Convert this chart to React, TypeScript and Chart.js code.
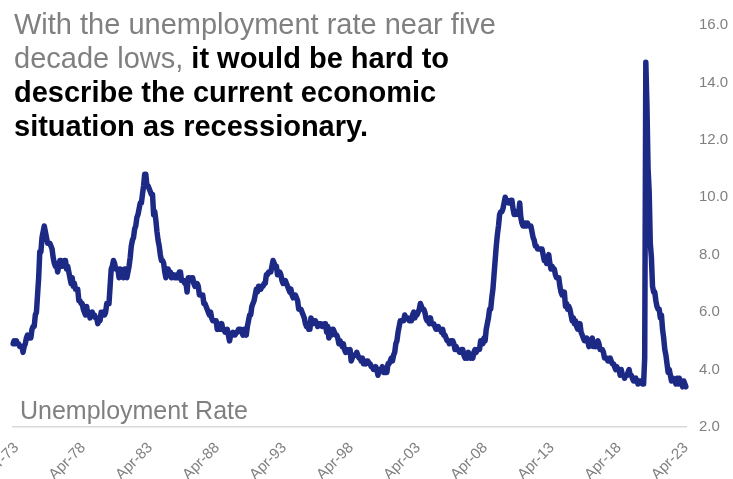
import React, { useEffect, useRef } from "react";
import { Chart, registerables } from "chart.js";

Chart.register(...registerables);

// Monthly US unemployment rate (%), Jan-1973 .. Apr-2023
const startYear = 1973;
const unemploymentRate: number[] = [
  // 1973
  4.9, 5.0, 4.9, 5.0, 4.9, 4.9, 4.8, 4.8, 4.8, 4.6, 4.8, 4.9,
  // 1974
  5.1, 5.2, 5.1, 5.1, 5.1, 5.4, 5.5, 5.5, 5.9, 6.0, 6.6, 7.2,
  // 1975
  8.1, 8.1, 8.6, 8.8, 9.0, 8.8, 8.6, 8.4, 8.4, 8.4, 8.3, 8.2,
  // 1976
  7.9, 7.7, 7.6, 7.7, 7.4, 7.6, 7.8, 7.8, 7.6, 7.7, 7.8, 7.8,
  // 1977
  7.5, 7.6, 7.4, 7.2, 7.0, 7.2, 6.9, 7.0, 6.8, 6.8, 6.8, 6.4,
  // 1978
  6.4, 6.3, 6.3, 6.1, 6.0, 5.9, 6.2, 5.9, 6.0, 5.8, 5.9, 6.0,
  // 1979
  5.9, 5.9, 5.8, 5.8, 5.6, 5.7, 5.7, 6.0, 5.9, 6.0, 5.9, 6.0,
  // 1980
  6.3, 6.3, 6.3, 6.9, 7.5, 7.6, 7.8, 7.7, 7.5, 7.5, 7.5, 7.2,
  // 1981
  7.5, 7.4, 7.4, 7.2, 7.5, 7.5, 7.2, 7.4, 7.6, 7.9, 8.3, 8.5,
  // 1982
  8.6, 8.9, 9.0, 9.3, 9.4, 9.6, 9.8, 9.8, 10.1, 10.4, 10.8, 10.8,
  // 1983
  10.4, 10.4, 10.3, 10.2, 10.1, 10.1, 9.4, 9.5, 9.2, 8.8, 8.5, 8.3,
  // 1984
  8.0, 7.8, 7.8, 7.7, 7.4, 7.2, 7.5, 7.5, 7.3, 7.4, 7.2, 7.3,
  // 1985
  7.3, 7.2, 7.2, 7.3, 7.2, 7.4, 7.4, 7.1, 7.1, 7.1, 7.0, 7.0,
  // 1986
  6.7, 7.2, 7.2, 7.1, 7.2, 7.2, 7.0, 6.9, 7.0, 7.0, 6.9, 6.6,
  // 1987
  6.6, 6.6, 6.6, 6.3, 6.3, 6.2, 6.1, 6.0, 5.9, 6.0, 5.8, 5.7,
  // 1988
  5.7, 5.7, 5.7, 5.4, 5.6, 5.4, 5.4, 5.6, 5.4, 5.4, 5.3, 5.3,
  // 1989
  5.4, 5.2, 5.0, 5.2, 5.2, 5.3, 5.2, 5.2, 5.3, 5.3, 5.4, 5.4,
  // 1990
  5.4, 5.3, 5.2, 5.4, 5.4, 5.2, 5.5, 5.7, 5.9, 5.9, 6.2, 6.3,
  // 1991
  6.4, 6.6, 6.8, 6.7, 6.9, 6.9, 6.8, 6.9, 6.9, 7.0, 7.0, 7.3,
  // 1992
  7.3, 7.4, 7.4, 7.4, 7.6, 7.8, 7.7, 7.6, 7.6, 7.3, 7.4, 7.4,
  // 1993
  7.3, 7.1, 7.0, 7.1, 7.1, 7.0, 6.9, 6.8, 6.7, 6.8, 6.6, 6.5,
  // 1994
  6.6, 6.6, 6.5, 6.4, 6.1, 6.1, 6.1, 6.0, 5.9, 5.8, 5.6, 5.5,
  // 1995
  5.6, 5.4, 5.4, 5.8, 5.6, 5.6, 5.7, 5.7, 5.6, 5.5, 5.6, 5.6,
  // 1996
  5.6, 5.5, 5.5, 5.6, 5.6, 5.3, 5.5, 5.1, 5.2, 5.2, 5.4, 5.4,
  // 1997
  5.3, 5.2, 5.2, 5.1, 4.9, 5.0, 4.9, 4.8, 4.9, 4.7, 4.6, 4.7,
  // 1998
  4.6, 4.6, 4.7, 4.3, 4.4, 4.5, 4.5, 4.5, 4.6, 4.5, 4.4, 4.4,
  // 1999
  4.3, 4.4, 4.2, 4.3, 4.2, 4.3, 4.3, 4.2, 4.2, 4.1, 4.1, 4.0,
  // 2000
  4.0, 4.1, 4.0, 3.8, 4.0, 4.0, 4.0, 4.1, 3.9, 3.9, 3.9, 3.9,
  // 2001
  4.2, 4.2, 4.3, 4.4, 4.3, 4.5, 4.6, 4.9, 5.0, 5.3, 5.5, 5.7,
  // 2002
  5.7, 5.7, 5.7, 5.9, 5.8, 5.8, 5.8, 5.7, 5.7, 5.7, 5.9, 6.0,
  // 2003
  5.8, 5.9, 5.9, 6.0, 6.1, 6.3, 6.2, 6.1, 6.1, 6.0, 5.8, 5.7,
  // 2004
  5.7, 5.6, 5.8, 5.6, 5.6, 5.6, 5.5, 5.4, 5.4, 5.5, 5.4, 5.4,
  // 2005
  5.3, 5.4, 5.2, 5.2, 5.1, 5.0, 5.0, 4.9, 5.0, 5.0, 5.0, 4.9,
  // 2006
  4.7, 4.8, 4.7, 4.7, 4.6, 4.6, 4.7, 4.7, 4.5, 4.4, 4.5, 4.4,
  // 2007
  4.6, 4.5, 4.4, 4.5, 4.4, 4.6, 4.7, 4.6, 4.7, 4.7, 4.7, 5.0,
  // 2008
  5.0, 4.9, 5.1, 5.0, 5.4, 5.6, 5.8, 6.1, 6.1, 6.5, 6.8, 7.3,
  // 2009
  7.8, 8.3, 8.7, 9.0, 9.4, 9.5, 9.5, 9.6, 9.8, 10.0, 9.9, 9.9,
  // 2010
  9.8, 9.8, 9.9, 9.9, 9.6, 9.4, 9.4, 9.5, 9.5, 9.4, 9.8, 9.3,
  // 2011
  9.1, 9.0, 9.0, 9.1, 9.0, 9.1, 9.0, 9.0, 9.0, 8.8, 8.6, 8.5,
  // 2012
  8.3, 8.3, 8.2, 8.2, 8.2, 8.2, 8.2, 8.0, 7.8, 7.8, 7.7, 7.9,
  // 2013
  8.0, 7.7, 7.5, 7.6, 7.5, 7.5, 7.3, 7.2, 7.2, 7.2, 6.9, 6.7,
  // 2014
  6.6, 6.7, 6.7, 6.2, 6.3, 6.1, 6.2, 6.1, 5.9, 5.7, 5.8, 5.6,
  // 2015
  5.7, 5.5, 5.4, 5.4, 5.6, 5.3, 5.2, 5.1, 5.0, 5.0, 5.1, 5.0,
  // 2016
  4.8, 4.9, 5.0, 5.1, 4.8, 4.9, 4.8, 4.9, 5.0, 4.9, 4.7, 4.7,
  // 2017
  4.7, 4.6, 4.4, 4.4, 4.4, 4.3, 4.3, 4.4, 4.3, 4.2, 4.2, 4.1,
  // 2018
  4.0, 4.1, 4.0, 4.0, 3.8, 4.0, 3.8, 3.8, 3.7, 3.8, 3.8, 3.9,
  // 2019
  4.0, 3.8, 3.8, 3.7, 3.6, 3.6, 3.7, 3.6, 3.5, 3.6, 3.6, 3.6,
  // 2020
  3.5, 3.5, 4.4, 14.7, 13.2, 11.0, 10.2, 8.4, 7.9, 6.9, 6.7, 6.7,
  // 2021
  6.4, 6.2, 6.1, 6.1, 5.8, 5.9, 5.4, 5.1, 4.7, 4.5, 4.2, 3.9,
  // 2022
  4.0, 3.8, 3.6, 3.7, 3.6, 3.6, 3.5, 3.7, 3.5, 3.7, 3.6, 3.5,
  // 2023
  3.4, 3.6, 3.5, 3.4,
];

const monthNames = ["Jan", "Feb", "Mar", "Apr", "May", "Jun", "Jul", "Aug", "Sep", "Oct", "Nov", "Dec"];
const categories: string[] = unemploymentRate.map((_, i) => {
  const y = startYear + Math.floor(i / 12);
  return `${monthNames[i % 12]}-${String(y % 100).padStart(2, "0")}`;
});

const xTickLabels = ["Apr-73", "Apr-78", "Apr-83", "Apr-88", "Apr-93", "Apr-98", "Apr-03", "Apr-08", "Apr-13", "Apr-18", "Apr-23"];
const yTicks = [2, 4, 6, 8, 10, 12, 14, 16];

const seriesName = "Unemployment Rate";
const titleGray = "With the unemployment rate near five";
const titleGray2 = "decade lows, ";
const titleBold = ["it would be hard to", "describe the current economic", "situation as recessionary."];

const W = 733;
const H = 479;
const FONT = "'Liberation Sans', Arial, sans-serif";

export default function App() {
  const ref = useRef<HTMLCanvasElement | null>(null);

  useEffect(() => {
    if (!ref.current) return;
    const chart = new Chart(ref.current, {
      type: "line",
      data: {
        labels: categories,
        datasets: [
          {
            label: seriesName,
            data: unemploymentRate,
            borderColor: "#1c2a86",
            backgroundColor: "#1c2a86",
            borderWidth: 5.5,
            pointRadius: 0,
            tension: 0,
            borderJoinStyle: "round",
            borderCapStyle: "round",
          },
        ],
      },
      options: {
        animation: false,
        responsive: false,
        maintainAspectRatio: false,
        layout: { padding: { top: 25, left: 13, right: 0, bottom: 0 } },
        plugins: {
          legend: { display: false },
          tooltip: { enabled: false },
          title: { display: false },
        },
        scales: {
          x: {
            type: "category",
            offset: false,
            grid: { display: false, drawTicks: false },
            border: { display: true, color: "#d9d9d9", width: 1.5 },
            ticks: {
              autoSkip: false,
              maxRotation: 45,
              minRotation: 45,
              padding: 12,
              color: "#808080",
              font: { family: FONT, size: 15 },
              callback: function (this: any, _v: any, index: number) {
                const lab = categories[index];
                return xTickLabels.includes(lab) ? lab : "";
              },
            },
            afterFit: (s: any) => {
              s.height = 52;
              s.paddingLeft = 0;
              s.paddingRight = 0;
            },
          },
          y: {
            position: "right",
            min: yTicks[0],
            max: yTicks[yTicks.length - 1],
            grid: { display: false, drawTicks: false },
            border: { display: false },
            afterBuildTicks: (s: any) => {
              s.ticks = yTicks.map((v) => ({ value: v }));
            },
            ticks: {
              padding: 13,
              color: "#808080",
              font: { family: FONT, size: 15 },
              callback: (v: any) => Number(v).toFixed(1),
            },
            afterFit: (s: any) => {
              s.width = 47;
              s.paddingTop = 0;
              s.paddingBottom = 0;
            },
          },
        },
      },
    });
    return () => chart.destroy();
  }, []);

  return (
    <div style={{ position: "fixed", left: 0, top: 0, width: W, height: H, background: "#fff", overflow: "hidden" }}>
      <canvas ref={ref} width={W} height={H} style={{ position: "absolute", left: 0, top: 0, width: W, height: H }} />
      <div
        style={{
          position: "absolute",
          left: 14,
          top: 7,
          fontFamily: FONT,
          fontSize: 29,
          lineHeight: "34px",
          color: "#808080",
          whiteSpace: "nowrap",
        }}
      >
        {titleGray}
        <br />
        {titleGray2}
        <span style={{ color: "#000", fontWeight: "bold" }}>
          {titleBold[0]}
          <br />
          {titleBold[1]}
          <br />
          {titleBold[2]}
        </span>
      </div>
      <div
        style={{
          position: "absolute",
          left: 20,
          top: 396,
          fontFamily: FONT,
          fontSize: 25,
          lineHeight: "28px",
          color: "#808080",
          whiteSpace: "nowrap",
        }}
      >
        {seriesName}
      </div>
    </div>
  );
}
